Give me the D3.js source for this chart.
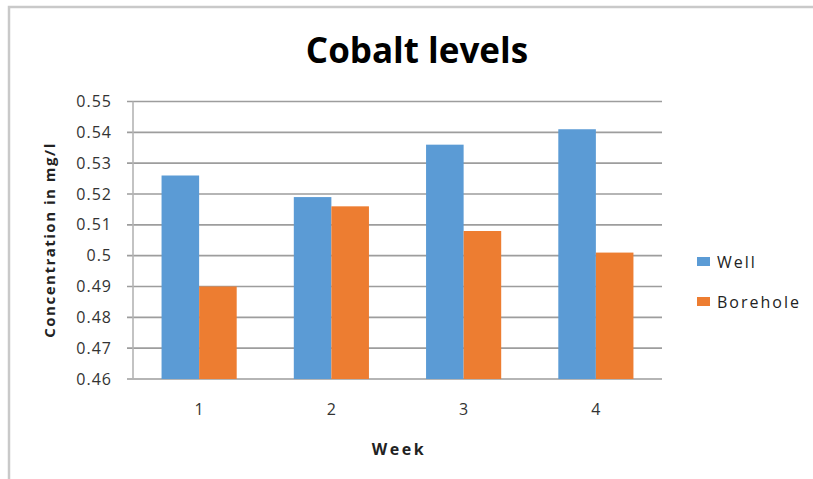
<!DOCTYPE html>
<html>
<head>
<meta charset="utf-8">
<script src="https://cdn.jsdelivr.net/npm/d3@7"></script>
<style>
  body { margin: 0; background: #fff; }
  text { font-family: "Open Sans", "DejaVu Sans", sans-serif; }
</style>
</head>
<body>
<div id="chart"></div>
<script>
var weeks = ["1", "2", "3", "4"];
var seriesNames = ["Well", "Borehole"];
var wellValues = [0.526, 0.519, 0.536, 0.541];
var boreholeValues = [0.490, 0.516, 0.508, 0.501];
var yTicks = [0.46, 0.47, 0.48, 0.49, 0.5, 0.51, 0.52, 0.53, 0.54, 0.55];
var colors = ["#5b9bd5", "#ed7d31"];

var svgWidth = 813;
var svgHeight = 479;

var svg = d3.select("#chart")
    .append("svg")
    .attr("width", svgWidth)
    .attr("height", svgHeight);

// outer chart frame (only top and left edges are visible in the picture)
svg.append("path")
    .attr("d", "M9,479 V7 H813")
    .attr("fill", "none")
    .attr("stroke", "#c9c9c9")
    .attr("stroke-width", 2.5);

var rows = weeks.map(function (w, i) {
    return { week: w, values: [wellValues[i], boreholeValues[i]] };
});

var x0 = d3.scaleBand()
    .domain(weeks)
    .range([133, 662])
    .padding(0);

var x1 = d3.scaleBand()
    .domain(seriesNames)
    .range([0, x0.bandwidth()])
    .paddingInner(0)
    .paddingOuter(0.76);

var y = d3.scaleLinear()
    .domain([0.46, 0.55])
    .range([379, 101.5]);

// gridlines
svg.append("g")
    .selectAll("line")
    .data(yTicks)
    .enter()
    .append("line")
    .attr("x1", 127)
    .attr("x2", 662)
    .attr("y1", d => y(d))
    .attr("y2", d => y(d))
    .attr("stroke", "#9d9d9d")
    .attr("stroke-width", 1.6);

// left axis line
svg.append("line")
    .attr("x1", 133).attr("x2", 133)
    .attr("y1", y(0.55)).attr("y2", y(0.46))
    .attr("stroke", "#b4b4b4")
    .attr("stroke-width", 1.6);

// y tick labels
var leftAxis = d3.axisLeft(y)
    .tickValues(yTicks)
    .tickSize(0)
    .tickPadding(0)
    .tickFormat(d => d3.format("")(+d.toFixed(2)));

var yAxis = svg.append("g")
    .attr("transform", "translate(112,0)")
    .call(leftAxis);
yAxis.select(".domain").remove();
yAxis.selectAll("text")
    .attr("font-size", "16px")
    .attr("letter-spacing", "1px")
    .attr("fill", "#333")
    .style("font-family", "'Open Sans', sans-serif");

// bars
var groups = svg.append("g")
    .selectAll("g")
    .data(rows)
    .enter()
    .append("g")
    .attr("transform", d => `translate(${x0(d.week)},0)`);

groups.selectAll("rect")
    .data(d => d.values.map((v, i) => ({ key: seriesNames[i], value: v, idx: i })))
    .enter()
    .append("rect")
    .attr("x", d => x1(d.key))
    .attr("width", x1.bandwidth())
    .attr("y", d => y(d.value))
    .attr("height", d => y(0.46) - y(d.value))
    .attr("fill", d => colors[d.idx]);

// x tick labels
var bottomAxis = d3.axisBottom(x0).tickSize(0).tickPadding(0);
var xAxis = svg.append("g")
    .attr("transform", "translate(0,404)")
    .call(bottomAxis);
xAxis.select(".domain").remove();
xAxis.selectAll("text")
    .attr("font-size", "16px")
    .attr("fill", "#333")
    .style("font-family", "'Open Sans', sans-serif");

// title
svg.append("text")
    .attr("x", 417)
    .attr("y", 63)
    .attr("text-anchor", "middle")
    .attr("font-size", "35px")
    .attr("font-weight", "bold")
    .attr("fill", "#000")
    .text("Cobalt levels");

// axis titles
svg.append("text")
    .attr("x", 399)
    .attr("y", 455)
    .attr("text-anchor", "middle")
    .attr("font-size", "16px")
    .attr("font-weight", "bold")
    .attr("letter-spacing", "2.5px")
    .attr("fill", "#222")
    .text("Week");

svg.append("text")
    .attr("transform", "translate(55,240) rotate(-90)")
    .attr("text-anchor", "middle")
    .attr("font-size", "15px")
    .attr("font-weight", "bold")
    .attr("letter-spacing", "1.5px")
    .attr("fill", "#222")
    .text("Concentration in mg/l");

// legend
var legend = svg.append("g")
    .selectAll("g")
    .data(seriesNames)
    .enter()
    .append("g")
    .attr("transform", (d, i) => `translate(697,${257 + i * 40})`);

legend.append("rect")
    .attr("width", 13)
    .attr("height", 9)
    .attr("fill", (d, i) => colors[i]);

legend.append("text")
    .attr("x", 20)
    .attr("y", 11)
    .attr("font-size", "16px")
    .attr("letter-spacing", "2px")
    .attr("fill", "#222")
    .text(d => d);
</script>
</body>
</html>
